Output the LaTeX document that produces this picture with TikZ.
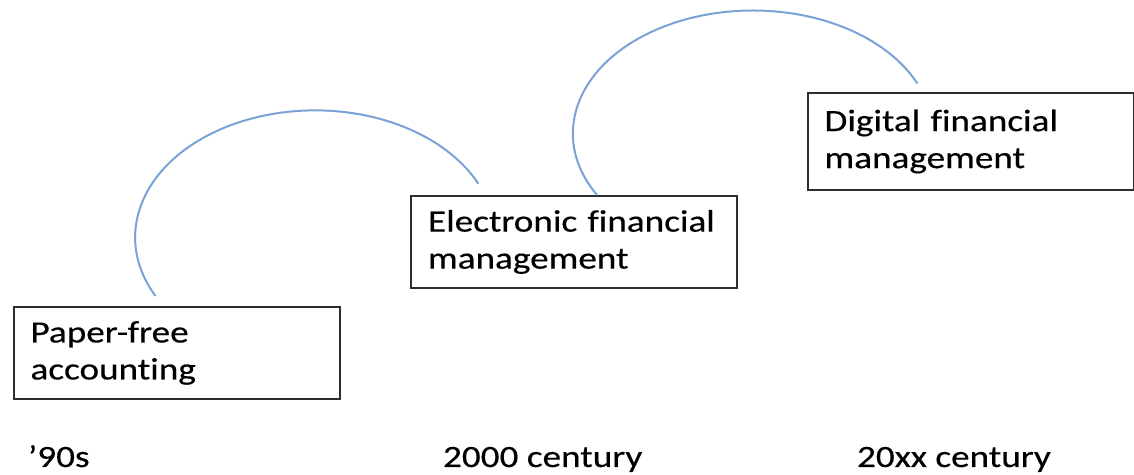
\documentclass[tikz,border=0pt]{standalone}
\usepackage{fontspec}
\setmainfont{Carlito}[FakeStretch=1.2,FakeBold=0.4,Ligatures={NoCommon}]
\usetikzlibrary{calc}
\definecolor{arcblue}{RGB}{122,162,214}
\definecolor{boxgray}{RGB}{45,45,45}

\begin{document}
\begin{tikzpicture}[x=0.5pt,y=0.5pt,inner sep=0pt,outer sep=0pt,
stageblock/.style={draw=boxgray,rectangle,line width=1pt,inner xsep=8.5pt,minimum width=163pt,minimum height=46pt,text width=146pt,align=left,font=\fontsize{15.5}{18.5}\selectfont},
eralabel/.style={anchor=base west,font=\fontsize{15.5}{18.5}\selectfont},
leap/.style={draw=arcblue,line width=1pt}]

\useasboundingbox (0,0) rectangle (1134,475);

\draw (176.5,122) node[stageblock] (paper) {Paper-free\\accounting};
\draw (574,233) node[stageblock] (elec) {Electronic financial\\management};
\draw (970.5,333.5) node[stageblock,minimum height=48.5pt] (digi) {Digital financial\\management};

\draw (28,8) node[eralabel] (nineties) {’90s};
\draw (443,8) node[eralabel] (twothousand) {2000 century};
\draw (857,8) node[eralabel] (twentyxx) {20xx century};

\draw[leap] ($(paper.north west)+(142,11)$) arc[start angle=207.5,end angle=25,x radius=180,y radius=127];
\draw[leap] ($(elec.north west)+(186,1)$) arc[start angle=210,end angle=24,x radius=180,y radius=123];

\end{tikzpicture}
\end{document}
